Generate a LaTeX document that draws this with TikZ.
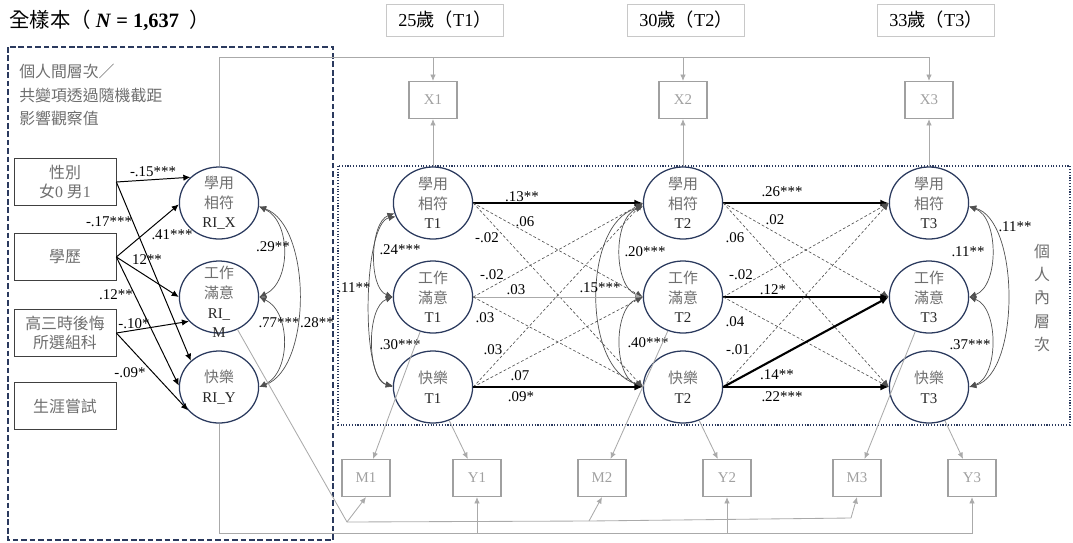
\documentclass[tikz,border=0pt]{standalone}
\usepackage{fontspec}
\setmainfont{Liberation Serif}
\newfontfamily\cjk{Noto Sans CJK TC}
\usetikzlibrary{shapes.geometric, arrows.meta, positioning, calc}
\definecolor{navy}{HTML}{2B3A5E}
\definecolor{boxgray}{HTML}{404040}
\definecolor{txtgray}{HTML}{6E6E6E}
\definecolor{obsgray}{HTML}{A0A0A0}
\definecolor{linegray}{HTML}{AAAAAA}
\definecolor{dashgray}{HTML}{505050}
\definecolor{agegray}{HTML}{C8C8C8}
\newcommand{\zh}[1]{{\cjk #1}}
\newcommand{\zhg}[1]{{\cjk\color{txtgray}#1}}

\begin{document}
\begin{tikzpicture}[
    x=0.025cm, y=0.025cm,
    block/.style={rectangle, draw=boxgray, line width=0.5pt, minimum width=2.55cm, minimum height=1.17cm, align=center, text=txtgray, font=\fontsize{11.3}{13.8}\selectfont},
    latent/.style={ellipse, draw=navy, line width=0.9pt, minimum width=1.98cm, minimum height=1.8cm, inner sep=0pt},
    ltext/.style={align=center, font=\fontsize{10.6}{14}\selectfont, text=black!85, inner sep=0pt},
    smallblock/.style={rectangle, draw=obsgray, line width=1pt, minimum width=1.2cm, minimum height=0.92cm, text=obsgray, font=\fontsize{10.6}{12}\selectfont},
    agebox/.style={rectangle, draw=agegray, line width=0.5pt, minimum width=2.92cm, minimum height=0.8cm, font=\fontsize{13}{15}\selectfont},
    arrow/.style={-{Latex[length=5pt, width=4.5pt]}, line width=0.7pt, black},
    thickarrow/.style={-{Latex[length=6pt, width=5pt]}, line width=1.5pt, black},
    dasharrow/.style={-{Latex[length=5pt, width=4.5pt]}, line width=0.45pt, dashgray, dash pattern=on 2pt off 1.5pt},
    thinarrow/.style={-{Latex[length=5pt, width=4.5pt]}, line width=0.5pt, linegray},
    grayarrow/.style={-{Latex[length=4.5pt, width=4pt]}, line width=0.6pt, linegray},
    grayline/.style={line width=0.6pt, linegray},
    cov/.style={{Latex[length=5pt, width=4.5pt]}-{Latex[length=5pt, width=4.5pt]}, line width=0.5pt, dashgray},
    coef/.style={font=\fontsize{10.6}{12}\selectfont, inner sep=0pt},
]
    \useasboundingbox (0,0) rectangle (1073,-542);

    % title and frames
    \node[anchor=west, font=\fontsize{14.5}{16}\selectfont, inner sep=0pt] (title) at (9,-20) {\zh{全樣本（}\ \textbf{\textit{N}\ =\ 1,637}\ \ \zh{）}};
    \draw[navy, line width=1.1pt, dash pattern=on 4pt off 2pt] (8,-47) rectangle (333,-540);
    \draw[navy, line width=1pt, dash pattern=on 0.8pt off 1.2pt] (338,-166) rectangle (1070,-425);
    \node[anchor=north west, align=left, text=txtgray, font={\cjk\fontsize{11.3}{16.7}\selectfont}, inner sep=0pt] (between) at (19,-64) {個人間層次／\\共變項透過隨機截距\\影響觀察值};
    \node[align=center, text=txtgray, font={\cjk\fontsize{11.3}{16.5}\selectfont}, inner sep=0pt] (within) at (1042,-298) {個\\人\\內\\層\\次};

    % covariates
    \node[block] (sex) at (65,-182) {\zh{性別}\\\zh{女}0 \zh{男}1};
    \node[block] (edu) at (65,-257) {\zh{學歷}};
    \node[block] (regret) at (65,-333) {\zh{高三時後悔}\\\zh{所選組科}};
    \node[block] (career) at (65,-406) {\zh{生涯嘗試}};

    % random intercepts
    \node[latent] (risat) at (219,-203) {};
    \node[latent] (rijob) at (219,-297) {};
    \node[latent] (rihap) at (219,-387) {};
    \node[ltext] (risatt) at (risat) {\zhg{學用}\\\zhg{相符}\\RI\_X};
    \node[ltext] (rijobt) at (219,-302) {\zhg{工作}\\\zhg{滿意}\\RI\_\\M};
    \node[ltext] (rihapt) at (rihap) {\zhg{快樂}\\RI\_Y};

    % within-person latents
    \node[latent] (sat1) at (433,-203) {};
    \node[latent] (job1) at (433,-297) {};
    \node[latent] (hap1) at (433,-387) {};
    \node[latent] (sat2) at (683,-203) {};
    \node[latent] (job2) at (683,-297) {};
    \node[latent] (hap2) at (683,-387) {};
    \node[latent] (sat3) at (929,-203) {};
    \node[latent] (job3) at (929,-297) {};
    \node[latent] (hap3) at (929,-387) {};
    \node[ltext] (sat1t) at (sat1) {\zhg{學用}\\\zhg{相符}\\T1};
    \node[ltext] (job1t) at (job1) {\zhg{工作}\\\zhg{滿意}\\T1};
    \node[ltext] (hap1t) at (hap1) {\zhg{快樂}\\T1};
    \node[ltext] (sat2t) at (sat2) {\zhg{學用}\\\zhg{相符}\\T2};
    \node[ltext] (job2t) at (job2) {\zhg{工作}\\\zhg{滿意}\\T2};
    \node[ltext] (hap2t) at (hap2) {\zhg{快樂}\\T2};
    \node[ltext] (sat3t) at (sat3) {\zhg{學用}\\\zhg{相符}\\T3};
    \node[ltext] (job3t) at (job3) {\zhg{工作}\\\zhg{滿意}\\T3};
    \node[ltext] (hap3t) at (hap3) {\zhg{快樂}\\T3};

    % waves and observed
    \node[agebox] (age1) at (445,-20) {25\zh{歲（}T1\zh{）}};
    \node[agebox] (age2) at (686,-20) {30\zh{歲（}T2\zh{）}};
    \node[agebox] (age3) at (936,-20) {33\zh{歲（}T3\zh{）}};
    \node[smallblock] (xo1) at (433,-100) {X1};
    \node[smallblock] (xo2) at (683,-100) {X2};
    \node[smallblock] (xo3) at (929,-100) {X3};
    \node[smallblock] (mo1) at (366,-478) {M1};
    \node[smallblock] (yo1) at (477,-478) {Y1};
    \node[smallblock] (mo2) at (602,-478) {M2};
    \node[smallblock] (yo2) at (727,-478) {Y2};
    \node[smallblock] (mo3) at (857,-478) {M3};
    \node[smallblock] (yo3) at (972,-478) {Y3};

    % covariate paths
    \draw[arrow] (sex.east) -- (risat.138);
    \draw[arrow] (sex.east) -- (rihap.137);
    \draw[arrow] (edu.east) -- (risat.182);
    \draw[arrow] (edu.east) -- (rijob.west);
    \draw[arrow] (edu.east) -- (rihap.178);
    \draw[arrow] (regret.east) -- (rijob.219);
    \draw[arrow] (regret.east) -- (rihap.217);
    \node[coef] (c01) at (153,-172) {-.15***};
    \node[coef] (c02) at (109,-222) {-.17***};
    \node[coef] (c03) at (172,-235) {.41***};
    \node[coef] (c04) at (147,-260) {12**};
    \node[coef] (c05) at (116,-295) {.12**};
    \node[coef] (c06) at (134,-324) {-.10*};
    \node[coef] (c07) at (130,-373) {-.09*};

    % between covariances
    \draw[cov] (risat.-5) to[out=-25, in=25, looseness=1] (rijob.0);
    \draw[cov] (rijob.0) to[out=-25, in=25, looseness=1] (rihap.0);
    \draw[cov] (risat.-5) to[out=-20, in=20, looseness=0.8] (rihap.0);
    \node[coef] (c08) at (273,-247) {.29**};
    \node[coef] (c09) at (279,-323) {.77***};
    \node[coef] (c10) at (317,-323) {.28**};

    % within covariances
    \draw[cov] (sat1.195) to[out=200, in=160, looseness=0.8] (job1.180);
    \draw[cov] (job1.180) to[out=200, in=160, looseness=0.8] (hap1.180);
    \draw[cov] (sat1.200) to[out=190, in=170, looseness=0.5] (hap1.178);
    \node[coef] (c11) at (400,-250) {.24***};
    \node[coef] (c12) at (400,-345) {.30***};
    \node[coef] (c13) at (354,-288) {.11**};
    \draw[cov] (sat2.185) to[out=200, in=160, looseness=0.9] (job2.180);
    \draw[cov] (job2.180) to[out=200, in=160, looseness=0.9] (hap2.180);
    \draw[cov] (sat2.185) to[out=195, in=165, looseness=0.9] (hap2.178);
    \node[coef] (c14) at (645,-252) {.20***};
    \node[coef] (c15) at (648,-343) {.40***};
    \node[coef] (c16) at (600,-288) {.15***};
    \draw[cov] (sat3.-5) to[out=-20, in=20, looseness=0.9] (job3.0);
    \draw[cov] (job3.0) to[out=-20, in=20, looseness=0.9] (hap3.0);
    \draw[cov] (sat3.-5) to[out=-15, in=15, looseness=0.75] (hap3.0);
    \node[coef] (c17) at (968,-252) {.11**};
    \node[coef] (c18) at (1015,-227) {.11**};
    \node[coef] (c19) at (970,-345) {.37***};

    % T1 to T2
    \draw[thickarrow] (sat1.east) -- (sat2.west);
    \draw[dasharrow] (sat1.east) -- (job2.west);
    \draw[dasharrow] (sat1.east) -- (hap2.west);
    \draw[dasharrow] (job1.east) -- (sat2.west);
    \draw[thinarrow] (job1.east) -- (job2.west);
    \draw[dasharrow] (job1.east) -- (hap2.west);
    \draw[dasharrow] (hap1.east) -- (sat2.west);
    \draw[dasharrow] (hap1.east) -- (job2.west);
    \draw[thickarrow] (hap1.east) -- (hap2.west);
    \node[coef] (c20) at (522,-197) {.13**};
    \node[coef] (c21) at (525,-222) {.06};
    \node[coef] (c22) at (487,-238) {-.02};
    \node[coef] (c23) at (492,-275) {-.02};
    \node[coef] (c24) at (516,-290) {.03};
    \node[coef] (c25) at (485,-318) {.03};
    \node[coef] (c26) at (493,-350) {.03};
    \node[coef] (c27) at (520,-376) {.07};
    \node[coef] (c28) at (521,-397) {.09*};

    % T2 to T3
    \draw[thickarrow] (sat2.east) -- (sat3.west);
    \draw[dasharrow] (sat2.east) -- (job3.west);
    \draw[dasharrow] (sat2.east) -- (hap3.west);
    \draw[dasharrow] (job2.east) -- (sat3.west);
    \draw[thickarrow] (job2.east) -- (job3.west);
    \draw[dasharrow] (job2.east) -- (hap3.west);
    \draw[dasharrow] (hap2.east) -- (sat3.west);
    \draw[thickarrow] (hap2.east) -- (job3.west);
    \draw[thickarrow] (hap2.east) -- (hap3.west);
    \node[coef] (c29) at (782,-192) {.26***};
    \node[coef] (c30) at (775,-220) {.02};
    \node[coef] (c31) at (735,-238) {.06};
    \node[coef] (c32) at (741,-275) {-.02};
    \node[coef] (c33) at (773,-290) {.12*};
    \node[coef] (c34) at (735,-322) {.04};
    \node[coef] (c35) at (738,-350) {-.01};
    \node[coef] (c36) at (777,-375) {.14**};
    \node[coef] (c37) at (782,-397) {.22***};

    % observed indicators
    \coordinate (xline) at (219,-57);
    \draw[grayarrow] (risat.north) |- (xo3.north |- xline) -- (xo3.north);
    \draw[grayarrow] (xo1.north |- xline) -- (xo1.north);
    \draw[grayarrow] (xo2.north |- xline) -- (xo2.north);
    \draw[grayarrow] (sat1.north) -- (xo1.south);
    \draw[grayarrow] (sat2.north) -- (xo2.south);
    \draw[grayarrow] (sat3.north) -- (xo3.south);
    \draw[grayarrow] (job1) -- (mo1);
    \draw[grayarrow] (hap1) -- (yo1);
    \draw[grayarrow] (job2) -- (mo2);
    \draw[grayarrow] (hap2) -- (yo2);
    \draw[grayarrow] (job3) -- (mo3);
    \draw[grayarrow] (hap3) -- (yo3);
    \coordinate (mj1) at (347,-522);
    \coordinate (mj2) at (589,-521);
    \coordinate (mj3) at (851,-518);
    \draw[grayline] (rijob) -- (mj1) -- (mj2) -- (mj3);
    \draw[grayarrow] (mj1) -- (mo1.south);
    \draw[grayarrow] (mj2) -- (mo2.south);
    \draw[grayarrow] (mj3) -- (mo3.south);
    \coordinate (yline) at (217,-533);
    \draw[grayarrow] (rihap.south) |- (yo3.south |- yline) -- (yo3.south);
    \draw[grayarrow] (yo1.south |- yline) -- (yo1.south);
    \draw[grayarrow] (yo2.south |- yline) -- (yo2.south);
\end{tikzpicture}
\end{document}
